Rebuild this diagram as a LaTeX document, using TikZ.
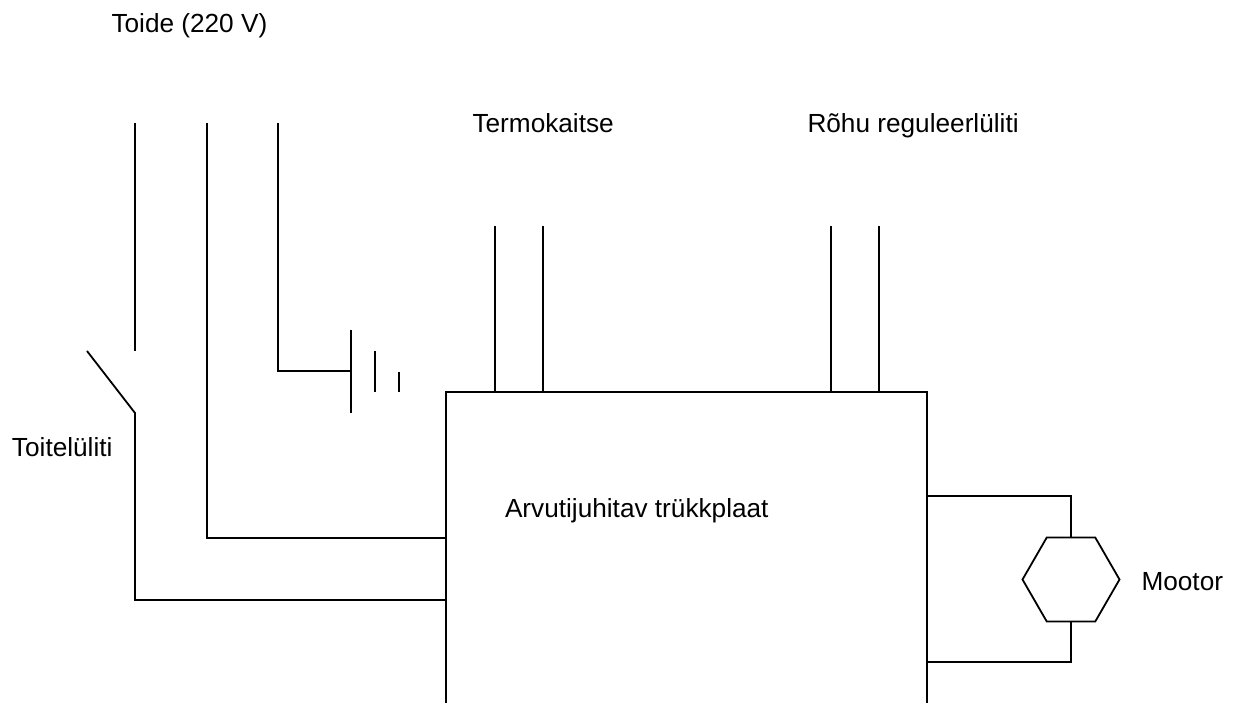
\documentclass[tikz,border=0pt]{standalone}
\usepackage{fontspec}
\setmainfont{Liberation Sans}
\usetikzlibrary{shapes.geometric}
\tikzset{
  wire/.style={draw=black,line width=1.8pt,line join=miter},
  label/.style={anchor=base west,inner sep=0pt,outer sep=0pt,text=black,font=\fontsize{26.2pt}{30pt}\selectfont},
  boardbox/.style={rectangle,minimum width=481pt,minimum height=311pt,inner sep=0pt,outer sep=0pt},
  motorhex/.style={draw=black,line width=1.8pt,fill=white,regular polygon,regular polygon sides=6,minimum size=97pt,inner sep=0pt,outer sep=0pt}
}
\begin{document}
\begin{tikzpicture}[x=1pt,y=-1pt]
\useasboundingbox (0,0) rectangle (1238,703);
\fill[white] (0,0) rectangle (1238,703);
% labels
\node[label] (toide) at (111.5,33) {Toide (220 V)};
\node[label] (termo) at (472.5,133) {Termokaitse};
\node[label] (rohu) at (807.5,133) {Rõhu reguleerlüliti};
\node[label] (toitel) at (12,456) {Toitelüliti};
\node[label] (arvuti) at (505,517) {Arvutijuhitav trükkplaat};
\node[label] (mootor) at (1141.5,590) {Mootor};
% board (open at the bottom)
\node[boardbox] (board) at (686.5,547.5) {};
\draw[wire] (board.south west) -- (board.north west) -- (board.north east) -- (board.south east);
% power lines
\coordinate (pa) at (135,123);
\coordinate (pb) at (135,351);
\coordinate (sw) at (87,351);
\coordinate (sj) at (135,413);
\coordinate (sk) at (135,600);
\coordinate (se) at (446,600);
\coordinate (na) at (207,123);
\coordinate (nk) at (207,538);
\coordinate (ne) at (446,538);
\coordinate (ga) at (278,123);
\coordinate (gk) at (278,371);
\draw[wire] (pa) -- (pb);
\draw[wire] (sw) -- (sj) -- (sk) -- (se);
\draw[wire] (na) -- (nk) -- (ne);
% earth symbol
\coordinate (e1a) at (351,330);
\coordinate (e1m) at (351,371);
\coordinate (e1b) at (351,413);
\coordinate (e2a) at (375,351);
\coordinate (e2b) at (375,392);
\coordinate (e3a) at (399,372);
\coordinate (e3b) at (399,392);
\draw[wire] (ga) -- (gk) -- (e1m);
\draw[wire] (e1a) -- (e1b);
\draw[wire] (e2a) -- (e2b);
\draw[wire] (e3a) -- (e3b);
% thermal fuse and pressure switch
\foreach \n/\x in {ta/495,tb/543,ra/831,rb/879}{
  \coordinate (\n1) at (\x,226);
  \coordinate (\n2) at (\x,392);
  \draw[wire] (\n1) -- (\n2);
}
% motor
\node[motorhex] (motor) at (1071,579.5) {};
\coordinate (m1) at (927,496);
\coordinate (m2) at (927,662);
\draw[wire] (m1) -| (motor.north);
\draw[wire] (m2) -| (motor.south);
\end{tikzpicture}
\end{document}
